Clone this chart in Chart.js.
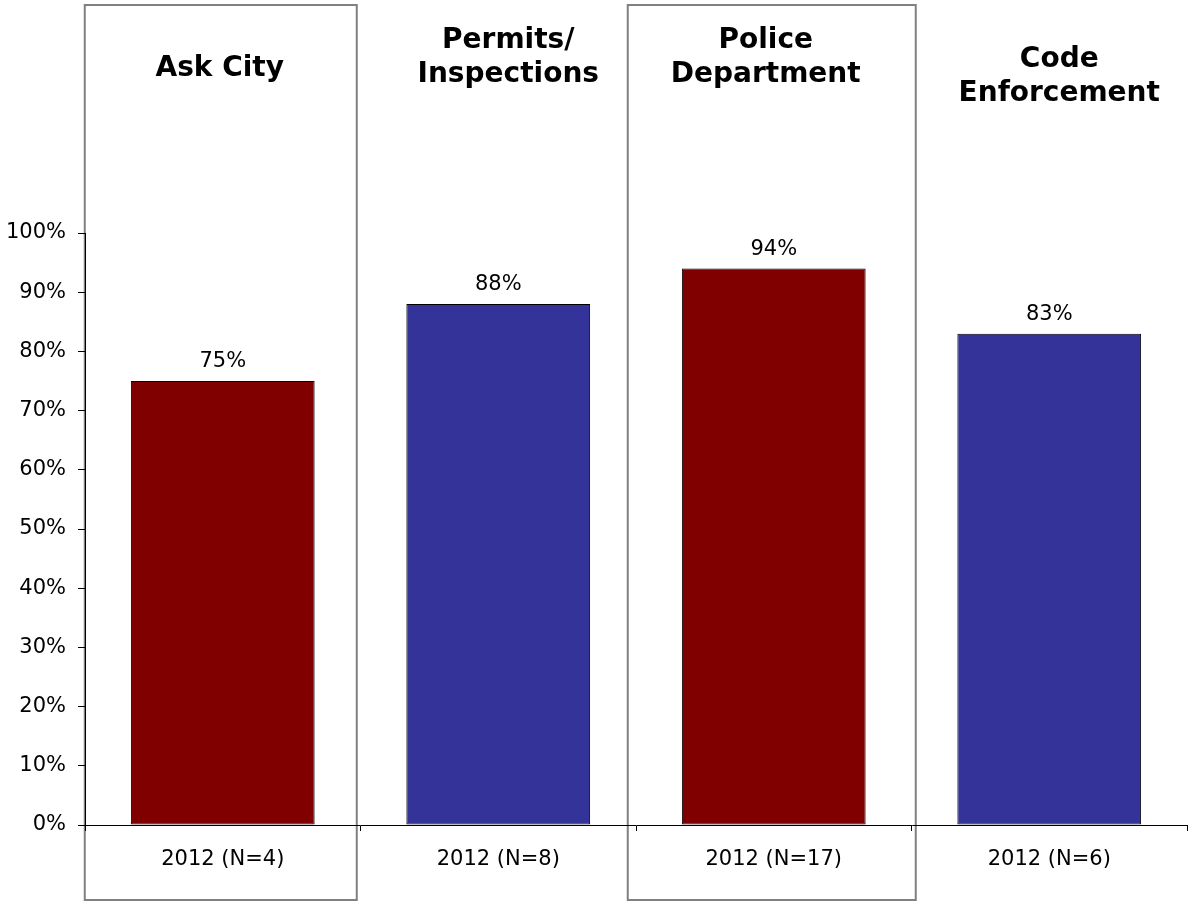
<!DOCTYPE html>
<html>
<head>
<meta charset="utf-8">
<script src="https://cdn.jsdelivr.net/npm/chart.js@4.4.0/dist/chart.umd.min.js"></script>
<style>
  html, body { margin: 0; padding: 0; background: #fff; }
  #wrap { width: 1188px; height: 902px; }
</style>
</head>
<body>
<div id="wrap"><canvas id="chart" width="1188" height="902"></canvas></div>
<script>
// data
let categories = ['2012 (N=4)', '2012 (N=8)', '2012 (N=17)', '2012 (N=6)']
let headers = [['Ask City'], ['Permits/', 'Inspections'], ['Police', 'Department'], ['Code', 'Enforcement']]
let values = [75, 88, 94, 83]
let barColors = ['#800000', '#333399', '#800000', '#333399']
let yTicks = [0, 10, 20, 30, 40, 50, 60, 70, 80, 90, 100]

// header placement (baselines + small x nudges) and boxed columns
let headerBaselines = [[76], [48, 82], [48, 82], [67, 101]]
let headerNudge = [-3, 10, -8, 10]
let boxed = [{ idx: 0, dx: -2, half: 136 }, { idx: 2, dx: -2, half: 144 }]

const FONT = "'DejaVu Sans', Verdana, sans-serif"

const boxPlugin = {
  id: 'boxes',
  beforeDraw(chart) {
    const ctx = chart.ctx
    const x = chart.scales.x
    ctx.save()
    ctx.strokeStyle = '#808080'
    ctx.lineWidth = 2
    boxed.forEach(b => {
      const cx = x.getPixelForValue(b.idx) + b.dx
      ctx.strokeRect(cx - b.half, 5, b.half * 2, 895)
    })
    ctx.restore()
  }
}

const headerPlugin = {
  id: 'headers',
  afterDraw(chart) {
    const ctx = chart.ctx
    const x = chart.scales.x
    ctx.save()
    ctx.fillStyle = '#000'
    ctx.font = 'bold 28px ' + FONT
    ctx.textAlign = 'center'
    ctx.textBaseline = 'alphabetic'
    headers.forEach((lines, i) => {
      const cx = x.getPixelForValue(i) + headerNudge[i]
      lines.forEach((ln, j) => ctx.fillText(ln, cx, headerBaselines[i][j]))
    })
    ctx.restore()
  }
}

const valueLabels = {
  id: 'valueLabels',
  afterDatasetsDraw(chart) {
    const ctx = chart.ctx
    const meta = chart.getDatasetMeta(0)
    ctx.save()
    ctx.fillStyle = '#000'
    ctx.font = '21px ' + FONT
    ctx.textAlign = 'center'
    ctx.textBaseline = 'alphabetic'
    meta.data.forEach((bar, i) => {
      ctx.fillText(values[i] + '%', bar.x, bar.y - 14)
    })
    ctx.restore()
  }
}

new Chart(document.getElementById('chart').getContext('2d'), {
  type: 'bar',
  data: {
    labels: categories,
    datasets: [{
      data: values,
      backgroundColor: barColors,
      borderColor: '#000',
      borderWidth: 1,
      borderSkipped: false,
      categoryPercentage: 1,
      barPercentage: 0.667
    }]
  },
  options: {
    responsive: false,
    animation: false,
    layout: { padding: { top: 233, right: 1, left: 0, bottom: 0 } },
    plugins: {
      legend: { display: false },
      tooltip: { enabled: false }
    },
    scales: {
      x: {
        afterFit(scale) { scale.height = 77 },
        grid: {
          display: true,
          offset: true,
          drawOnChartArea: false,
          drawTicks: true,
          tickLength: 6,
          color: '#000'
        },
        border: { display: true, color: '#000', width: 1 },
        ticks: {
          color: '#000',
          font: { family: FONT, size: 21 },
          padding: 16
        }
      },
      y: {
        min: 0,
        max: 100,
        afterFit(scale) { scale.width = 85 },
        afterBuildTicks(scale) { scale.ticks = yTicks.map(v => ({ value: v })) },
        grid: {
          display: true,
          drawOnChartArea: false,
          drawTicks: true,
          tickLength: 7,
          color: '#000'
        },
        border: { display: true, color: '#000', width: 1 },
        ticks: {
          color: '#000',
          font: { family: FONT, size: 21 },
          padding: 12,
          callback: v => v + '%'
        }
      }
    }
  },
  plugins: [boxPlugin, headerPlugin, valueLabels]
})
</script>
</body>
</html>
